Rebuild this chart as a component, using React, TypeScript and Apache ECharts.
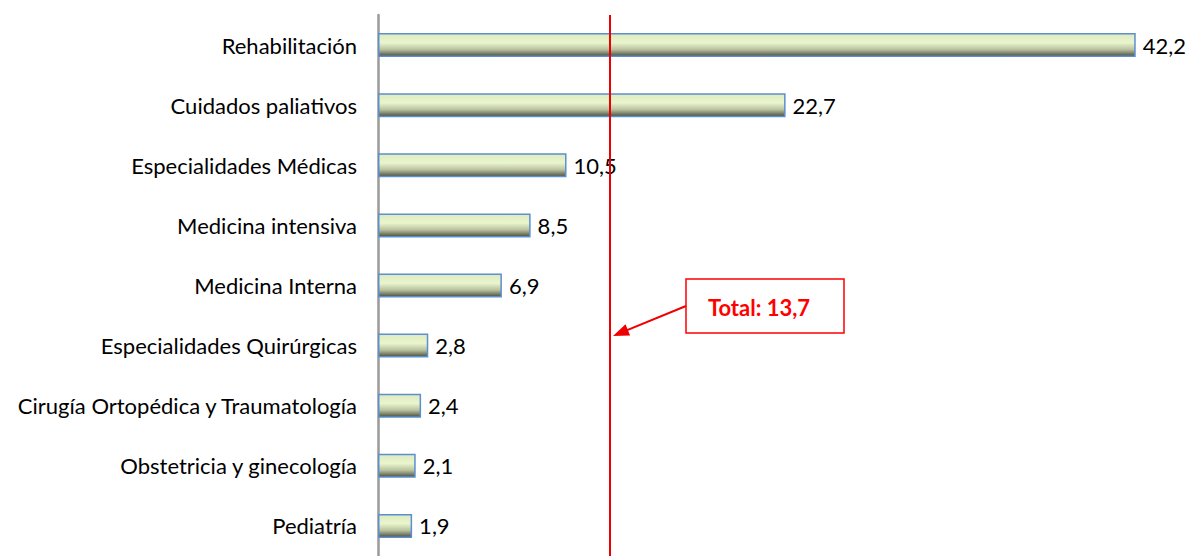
import React, { useEffect, useRef } from "react";
import * as echarts from "echarts";

const categories = [
  "Rehabilitación",
  "Cuidados paliativos",
  "Especialidades Médicas",
  "Medicina intensiva",
  "Medicina Interna",
  "Especialidades Quirúrgicas",
  "Cirugía Ortopédica y Traumatología",
  "Obstetricia y ginecología",
  "Pediatría",
];
const values = [42.2, 22.7, 10.5, 8.5, 6.9, 2.8, 2.4, 2.1, 1.9];
const totalLabel = "Total: 13,7";
const totalLinePosition = 12.9; // where the reference line is drawn on the value scale

const FONT = "Lato, 'Open Sans', sans-serif";
const FS = 22;

export default function App() {
  const ref = useRef<HTMLDivElement>(null);
  useEffect(() => {
    if (!ref.current) return;
    const chart = echarts.init(ref.current, undefined, { renderer: "svg" });

    // arrow geometry (annotation)
    const sx = 686, sy = 306, tx = 613, ty = 336;
    const dx = tx - sx, dy = ty - sy;
    const len = Math.sqrt(dx * dx + dy * dy);
    const ux = dx / len, uy = dy / len;
    const hl = 16, hw = 6;
    const bx = tx - ux * hl, by = ty - uy * hl;
    const px = -uy, py = ux;

    chart.setOption({
      animation: false,
      grid: { left: 378, top: 15, width: 808, height: 545, containLabel: false },
      xAxis: {
        type: "value",
        min: 0,
        max: 45,
        show: false,
        splitLine: { show: false },
      },
      yAxis: {
        type: "category",
        data: categories,
        inverse: true,
        axisLine: { show: true, lineStyle: { color: "#9a9a9a", width: 2.5 } },
        axisTick: { show: false },
        axisLabel: { color: "#000", fontSize: FS, fontFamily: FONT, margin: 21 },
      },
      series: [
        {
          type: "bar",
          data: values,
          barWidth: 24,
          itemStyle: {
            color: new echarts.graphic.LinearGradient(0, 0, 0, 1, [
              { offset: 0, color: "#dfeabf" },
              { offset: 0.4, color: "#e9f5cd" },
              { offset: 0.7, color: "#b9c19f" },
              { offset: 1, color: "#4b4f40" },
            ]),
            borderColor: "#5b8fd0",
            borderWidth: 1.5,
          },
          label: {
            show: true,
            position: "right",
            distance: 7,
            color: "#000",
            fontSize: FS,
            fontFamily: FONT,
            formatter: (p: any) => String(p.value).replace(".", ","),
          },
          markLine: {
            silent: true,
            symbol: "none",
            label: { show: false },
            lineStyle: { color: "#ee0000", width: 2, type: "solid" },
            data: [{ xAxis: totalLinePosition }],
          },
        },
      ],
      graphic: [
        {
          type: "rect",
          shape: { x: 686, y: 279, width: 158, height: 54 },
          style: { fill: "#fff", stroke: "#ff0000", lineWidth: 1.5 },
        },
        {
          type: "text",
          x: 759,
          y: 307,
          style: {
            text: totalLabel,
            fill: "#ff0000",
            font: `bold ${FS}px ${FONT}`,
            align: "center",
            verticalAlign: "middle",
          },
        },
        {
          type: "line",
          shape: { x1: sx, y1: sy, x2: bx + ux * 2, y2: by + uy * 2 },
          style: { stroke: "#ee0000", lineWidth: 2 },
        },
        {
          type: "polygon",
          shape: {
            points: [
              [tx, ty],
              [bx + px * hw, by + py * hw],
              [bx - px * hw, by - py * hw],
            ],
          },
          style: { fill: "#ee0000" },
        },
      ],
    });
    return () => chart.dispose();
  }, []);
  return (
    <div
      ref={ref}
      style={{ position: "fixed", left: 0, top: 0, width: 1188, height: 556, background: "#fff" }}
    />
  );
}
